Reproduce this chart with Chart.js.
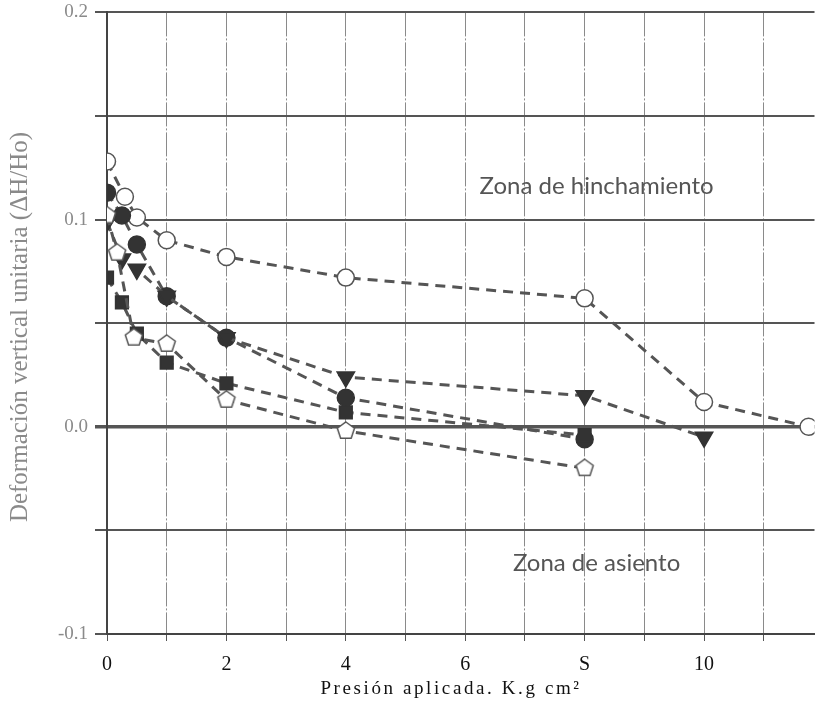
<!DOCTYPE html>
<html>
<head>
<meta charset="utf-8">
<script src="https://cdn.jsdelivr.net/npm/chart.js@4.4.1/dist/chart.umd.min.js"></script>
<style>
  html, body { margin: 0; padding: 0; background: #fff; overflow: hidden; }
  #wrap { width: 826px; height: 719px; overflow: hidden; }
  #myChart { margin-top: -6px; display: block; }
</style>
</head>
<body>
<div id="wrap"><canvas id="myChart" width="826" height="725"></canvas></div>
<script>
// values
var xTicks = [0, 1, 2, 3, 4, 5, 6, 7, 8, 9, 10, 11]
var xTickLabels = ["0", "", "2", "", "4", "", "6", "", "S", "", "10", ""]
var yTicks = [-0.1, -0.05, 0, 0.05, 0.1, 0.15, 0.2]
var yTickLabels = ["-0.1", "", "0.0", "", "0.1", "", "0.2"]

var xOpenCircle = [0, 0.3, 0.5, 1, 2, 4, 8, 10, 11.75]
var yOpenCircle = [0.128, 0.111, 0.101, 0.090, 0.082, 0.072, 0.062, 0.012, 0.0]

var xFilledCircle = [0, 0.25, 0.5, 1, 2, 4, 8]
var yFilledCircle = [0.113, 0.102, 0.088, 0.063, 0.043, 0.014, -0.006]

var xTriangle = [0, 0.25, 0.5, 1, 2, 4, 8, 10]
var yTriangle = [0.099, 0.081, 0.076, 0.063, 0.043, 0.024, 0.015, -0.005]

var xSquare = [0, 0.25, 0.5, 1, 2, 4, 8]
var ySquare = [0.072, 0.060, 0.045, 0.031, 0.021, 0.007, -0.004]

var xPentagon = [0, 0.17, 0.45, 1, 2, 4, 8]
var yPentagon = [0.102, 0.084, 0.043, 0.040, 0.013, -0.002, -0.020]

var xTitle = "Presión aplicada. K.g cm²"
var yTitle = "Deformación vertical unitaria (ΔH/Ho)"
var zoneUp = "Zona de hinchamiento"
var zoneDown = "Zona de asiento"

function pts(xs, ys) {
  return xs.map(function(x, i) { return {x: x, y: ys[i]} })
}

function makePentagon(r) {
  var c = document.createElement("canvas")
  var s = Math.ceil(r * 2 + 4)
  c.width = s
  c.height = s
  var g = c.getContext("2d")
  g.beginPath()
  for (var i = 0; i < 5; i++) {
    var a = -Math.PI / 2 + i * 2 * Math.PI / 5
    var px = s / 2 + r * Math.cos(a)
    var py = s / 2 + r * Math.sin(a)
    if (i == 0) g.moveTo(px, py)
    else g.lineTo(px, py)
  }
  g.closePath()
  g.fillStyle = "#fff"
  g.fill()
  g.lineWidth = 1.5
  g.strokeStyle = "#555"
  g.stroke()
  return c
}

var lineColor = "#555"
var dash = [10, 7]

function series(data, style, fill, border, radius, rotation) {
  return {
    data: data,
    showLine: true,
    borderColor: lineColor,
    borderWidth: 3,
    borderDash: dash,
    pointStyle: style,
    pointRadius: radius,
    pointRotation: rotation || 0,
    pointBackgroundColor: fill,
    pointBorderColor: border,
    pointBorderWidth: 1.5,
    tension: 0,
    fill: false
  }
}

// zone labels and axis titles
var labelsPlugin = {
  id: "labels",
  afterDraw: function(chart) {
    var ctx = chart.ctx
    var xs = chart.scales.x
    var ys = chart.scales.y
    ctx.save()
    ctx.fillStyle = "#555"
    ctx.font = "24px Lato"
    ctx.textAlign = "center"
    ctx.textBaseline = "middle"
    ctx.fillText(zoneUp, xs.getPixelForValue(8.2), ys.getPixelForValue(0.116))
    ctx.fillText(zoneDown, xs.getPixelForValue(8.2), ys.getPixelForValue(-0.066))

    ctx.save()
    ctx.translate(20, 333)
    ctx.rotate(-Math.PI / 2)
    ctx.fillStyle = "#8a8a8a"
    ctx.font = "25px 'Liberation Serif'"
    ctx.fillText(yTitle, 0, 0)
    ctx.restore()

    ctx.fillStyle = "#111"
    ctx.font = "19px 'Liberation Serif'"
    ctx.letterSpacing = "2.6px"
    ctx.fillText(xTitle, 451, 695)
    ctx.restore()
  }
}

var ctx = document.getElementById("myChart").getContext("2d")
var chart = new Chart(ctx, {
  type: "line",
  data: {
    datasets: [
      series(pts(xPentagon, yPentagon), makePentagon(9), "#fff", "#555", 9),
      series(pts(xSquare, ySquare), "rect", "#333", "#333", 9),
      series(pts(xTriangle, yTriangle), "triangle", "#333", "#333", 10, 180),
      series(pts(xFilledCircle, yFilledCircle), "circle", "#333", "#333", 8.5),
      series(pts(xOpenCircle, yOpenCircle), "circle", "#fff", "#555", 8.5)
    ]
  },
  options: {
    responsive: false,
    animation: false,
    layout: { padding: { left: 0, right: 0, top: 0, bottom: 0 } },
    plugins: {
      legend: { display: false },
      tooltip: { enabled: false }
    },
    scales: {
      x: {
        type: "linear",
        min: 0,
        max: 11.85,
        afterBuildTicks: function(s) { s.ticks = xTicks.map(function(v) { return {value: v} }) },
        afterFit: function(s) { s.height = 85 },
        ticks: {
          autoSkip: false,
          maxRotation: 0,
          padding: 12,
          color: "#111",
          font: { family: "'Liberation Serif'", size: 20 },
          callback: function(v, i) { return xTickLabels[i] }
        },
        grid: {
          color: "#8a8a8a",
          lineWidth: 1,
          tickColor: "#555",
          tickLength: 7
        },
        border: { display: true, color: "#444", width: 2, dash: [24, 2, 2, 2] },
        title: { display: false }
      },
      y: {
        type: "linear",
        min: -0.1,
        max: 0.2,
        afterBuildTicks: function(s) { s.ticks = yTicks.map(function(v) { return {value: v} }) },
        afterFit: function(s) { s.width = 107 },
        ticks: {
          padding: 7,
          color: "#8a8a8a",
          font: { family: "'Liberation Serif'", size: 19 },
          callback: function(v, i) { return yTickLabels[i] }
        },
        grid: {
          color: "#555",
          lineWidth: function(c) { return c.tick && c.tick.value === 0 ? 3.5 : 2 },
          tickColor: "#555",
          tickLength: 12
        },
        border: { display: true, color: "#444", width: 2 },
        title: { display: false }
      }
    }
  },
  plugins: [labelsPlugin]
})
</script>
</body>
</html>
